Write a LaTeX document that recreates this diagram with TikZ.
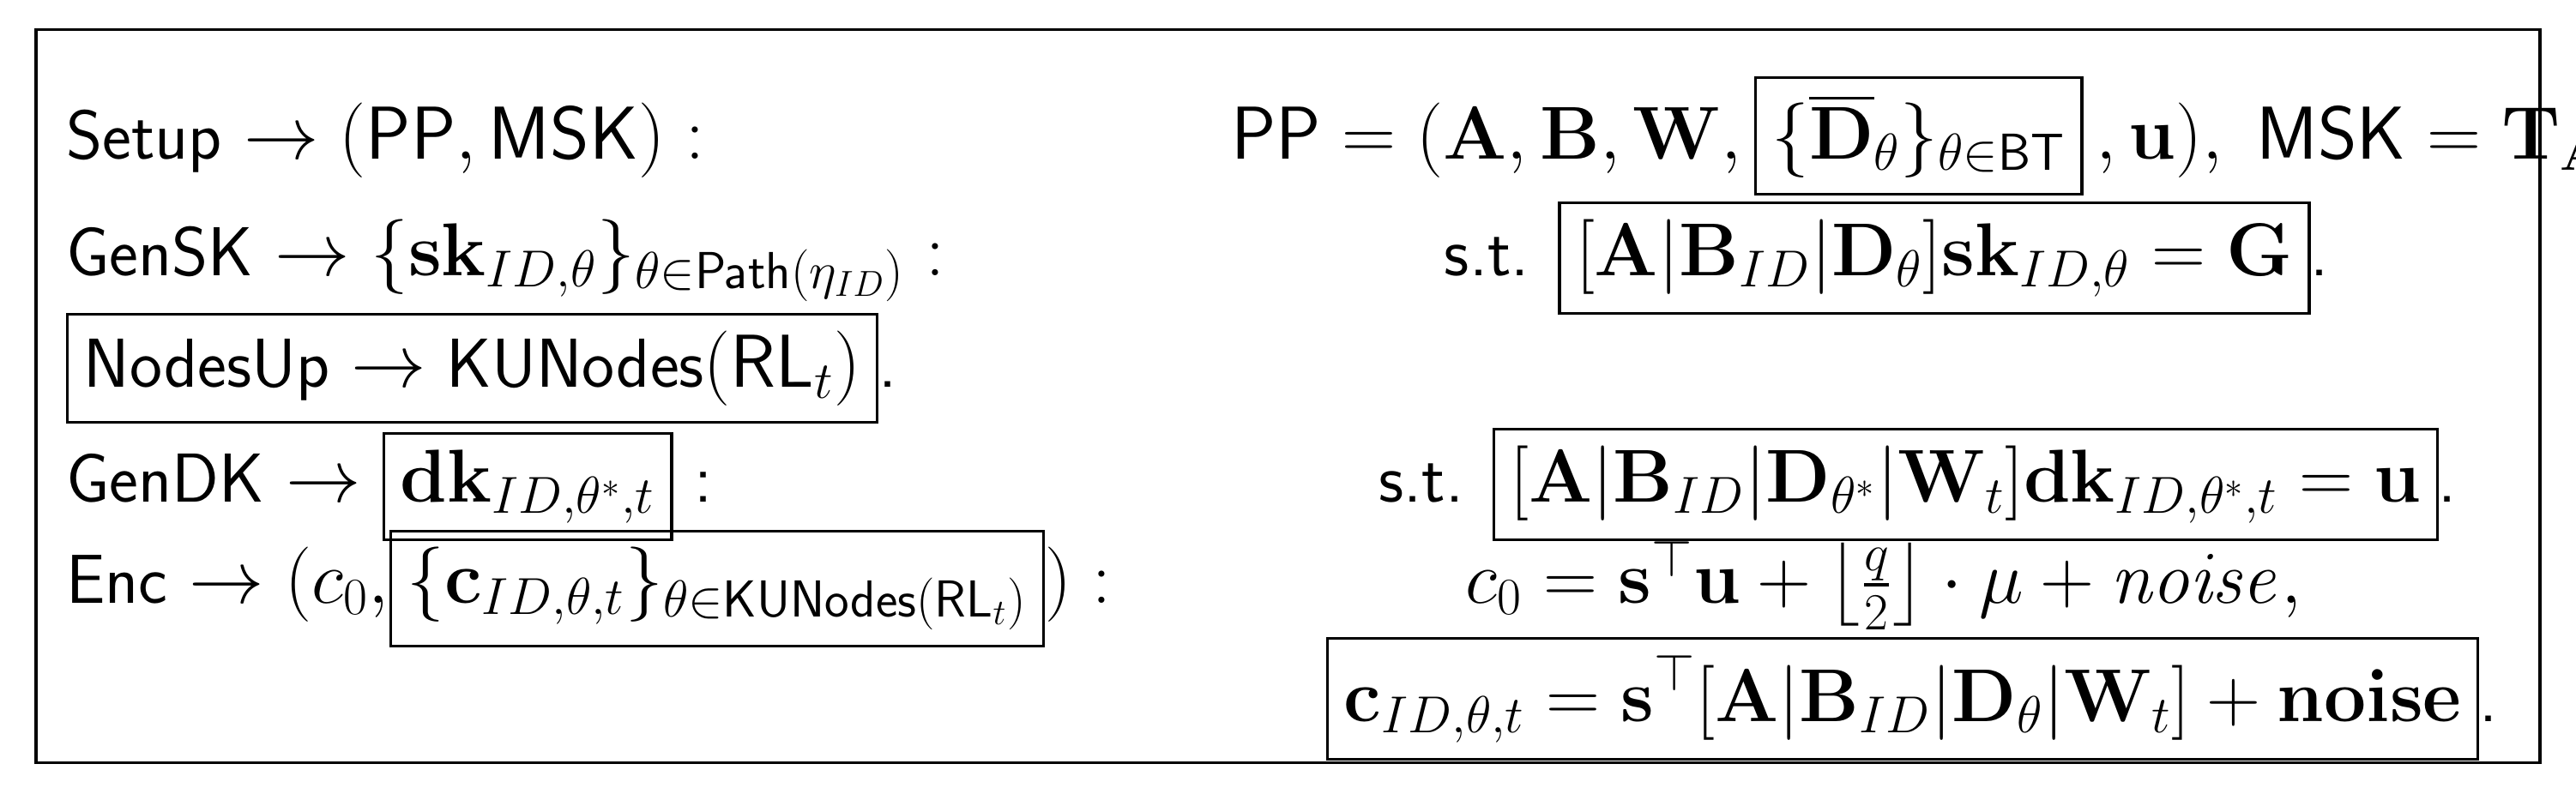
\documentclass[tikz,border=0pt]{standalone}
\usepackage{amsmath,amssymb}
\newcommand{\bx}[1]{{\setlength{\fboxsep}{5pt}\setlength{\fboxrule}{0.9pt}\fbox{$\displaystyle #1$}}}
\begin{document}
\begin{tikzpicture}[x=0.019127cm,y=-0.019127cm,
  txt/.style={anchor=base west,inner sep=0pt,font=\fontsize{23}{26}\selectfont\sffamily}]
\useasboundingbox (0,0) rectangle (1570,480);
\draw[line width=0.9pt] (22,18) rectangle (1548,465);
\node[txt] (s1) at (40,97) {Setup $\rightarrow(\mathsf{PP},\mathsf{MSK}):$};
\node[txt] (r1) at (750,97) {$\mathsf{PP}=(\mathbf{A},\mathbf{B},\mathbf{W},\bx{\{\overline{\mathbf{D}}_\theta\}_{\theta\in\mathsf{BT}}}\,,\mathbf{u}),\ \mathsf{MSK}=\mathbf{T}_{\mathbf{A}}.$};
\node[txt] (s2) at (40,168) {GenSK $\rightarrow\{\mathbf{sk}_{ID,\theta}\}_{\theta\in\mathsf{Path}(\eta_{ID})}:$};
\node[txt] (r2) at (880,168) {s.t. \bx{[\mathbf{A}|\mathbf{B}_{ID}|\mathbf{D}_\theta]\mathbf{sk}_{ID,\theta}=\mathbf{G}}.};
\node[txt] (s3) at (40,236) {\bx{\text{\sffamily NodesUp}\rightarrow\text{\sffamily KUNodes}(\mathsf{RL}_t)}.};
\node[txt] (s4) at (40,306) {GenDK $\rightarrow$ \bx{\mathbf{dk}_{ID,\theta^*,t}} :};
\node[txt] (r4) at (840,306) {s.t. \bx{[\mathbf{A}|\mathbf{B}_{ID}|\mathbf{D}_{\theta^*}|\mathbf{W}_t]\mathbf{dk}_{ID,\theta^*,t}=\mathbf{u}}.};
\node[txt] (s5) at (40,368) {Enc $\rightarrow(c_0,$\bx{\{\mathbf{c}_{ID,\theta,t}\}_{\theta\in\mathsf{KUNodes}(\mathsf{RL}_t)}}$):$};
\node[txt] (r5) at (893,368) {$c_0=\mathbf{s}^\top\mathbf{u}+\left\lfloor\frac{q}{2}\right\rfloor\cdot\mu+\mathit{noise},$};
\node[txt] (r6) at (808,440) {\bx{\mathbf{c}_{ID,\theta,t}=\mathbf{s}^\top[\mathbf{A}|\mathbf{B}_{ID}|\mathbf{D}_\theta|\mathbf{W}_t]+\mathbf{noise}}.};
\end{tikzpicture}
\end{document}
